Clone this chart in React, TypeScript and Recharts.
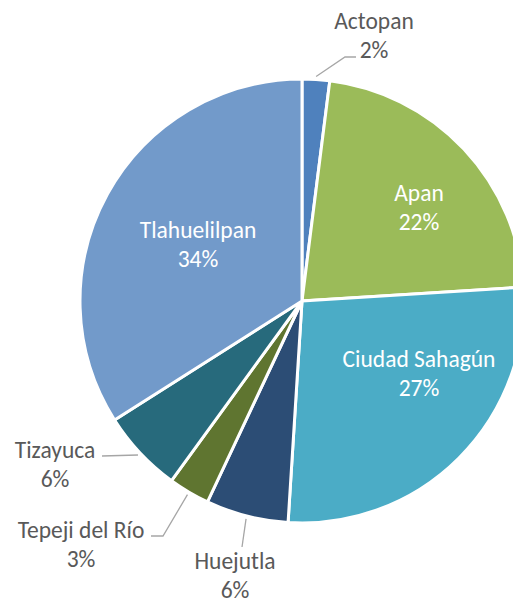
import { Cell, Pie, PieChart } from 'recharts';

// data (shares in %)
const municipios = [
  'Actopan',
  'Apan',
  'Ciudad Sahagún',
  'Huejutla',
  'Tepeji del Río',
  'Tizayuca',
  'Tlahuelilpan',
];
const porcentajes = [2, 22, 27, 6, 3, 6, 34];

const colors = [
  '#4F81BD',
  '#9BBB59',
  '#4BACC6',
  '#2C4D75',
  '#5F7530',
  '#276A7C',
  '#729ACA',
];

// label placement relative to the pie centre: text centre x, first baseline y,
// and for outside labels the leader line points after the slice edge
type LabelStyle = {
  inside: boolean;
  x: number;
  y: number;
  leader?: [number, number][];
};
const labelStyles: LabelStyle[] = [
  { inside: false, x: 72, y: -272, leader: [[43, -244], [54, -244]] },
  { inside: true, x: 117, y: -100 },
  { inside: true, x: 117, y: 66 },
  { inside: false, x: -67, y: 268, leader: [[-60, 246]] },
  { inside: false, x: -221, y: 237, leader: [[-139, 235], [-151, 235]] },
  { inside: false, x: -247, y: 157, leader: [[-200, 155]] },
  { inside: true, x: -104, y: -63 },
];

const data = municipios.map((name, i) => ({ name, value: porcentajes[i] }));

const RAD = Math.PI / 180;
const FONT = 'Carlito, Calibri, Lato, sans-serif';
const FONT_SIZE = 23.5;
const LINE = 29;

function renderLabel(props: any) {
  const { cx, cy, midAngle, outerRadius, index, percent, name } = props;
  const st = labelStyles[index];
  const pct = `${Math.round(percent * 100)}%`;
  const fill = st.inside ? '#ffffff' : '#595959';
  let line = null;
  if (!st.inside && st.leader) {
    const sx = cx + (outerRadius + 3) * Math.cos(-midAngle * RAD);
    const sy = cy + (outerRadius + 3) * Math.sin(-midAngle * RAD);
    const pts = [[sx, sy], ...st.leader.map(([dx, dy]) => [cx + dx, cy + dy])];
    line = (
      <polyline
        points={pts.map((p) => p.join(',')).join(' ')}
        fill="none"
        stroke="#A6A6A6"
        strokeWidth={1.3}
      />
    );
  }
  return (
    <g>
      {line}
      <text
        x={cx + st.x}
        y={cy + st.y}
        textAnchor="middle"
        fill={fill}
        fontFamily={FONT}
        fontSize={FONT_SIZE}
      >
        {name}
      </text>
      <text
        x={cx + st.x}
        y={cy + st.y + LINE}
        textAnchor="middle"
        fill={fill}
        fontFamily={FONT}
        fontSize={FONT_SIZE}
      >
        {pct}
      </text>
    </g>
  );
}

export default function App() {
  return (
    <div
      style={{
        position: 'absolute',
        left: 0,
        top: 0,
        width: 513,
        height: 600,
        background: '#fff',
        overflow: 'hidden',
      }}
    >
      <PieChart width={513} height={600} margin={{ top: 0, right: 0, bottom: 0, left: 0 }}>
        <Pie
          data={data}
          dataKey="value"
          nameKey="name"
          cx={302}
          cy={301}
          outerRadius={222}
          startAngle={90}
          endAngle={-270}
          stroke="#ffffff"
          strokeWidth={3}
          label={renderLabel}
          labelLine={false}
          isAnimationActive={false}
        >
          {data.map((d, i) => (
            <Cell key={d.name} fill={colors[i]} />
          ))}
        </Pie>
      </PieChart>
    </div>
  );
}
